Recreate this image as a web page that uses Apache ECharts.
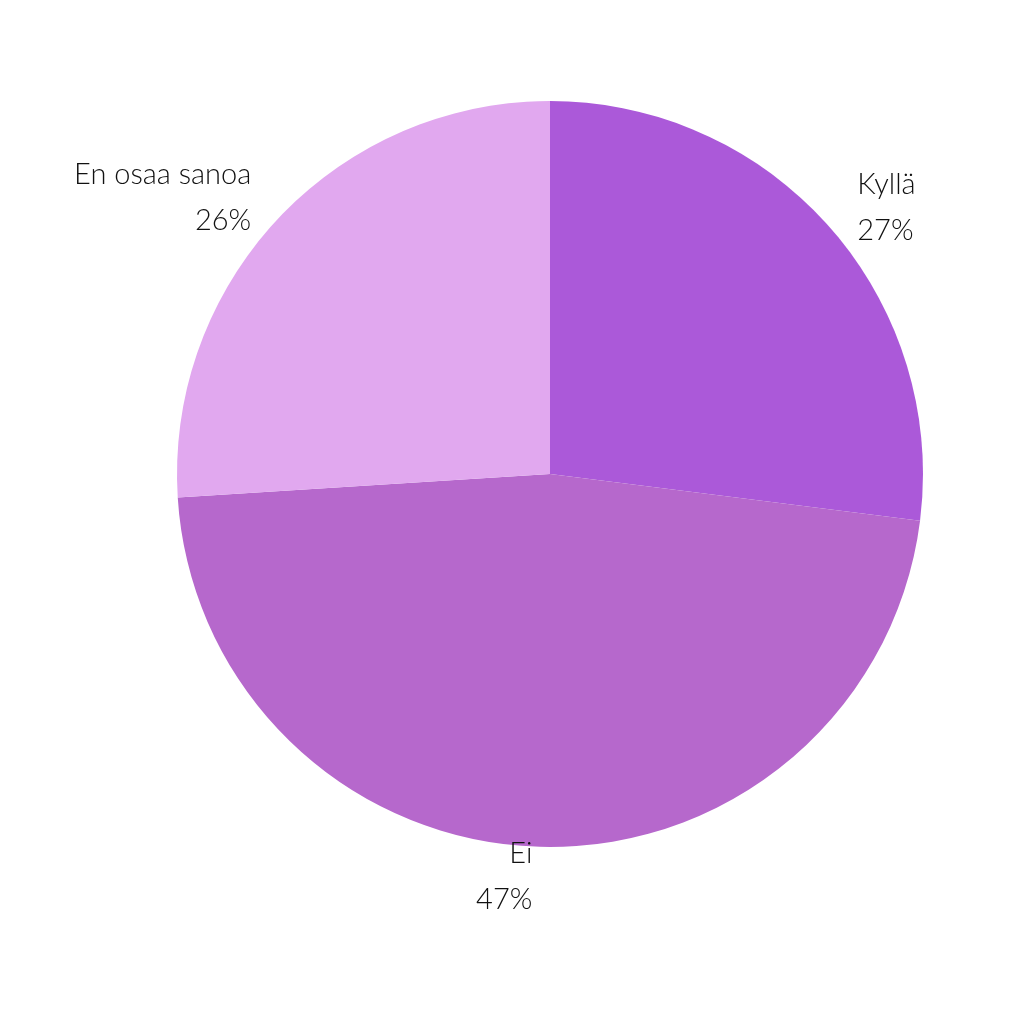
<!DOCTYPE html>
<html><head><meta charset="utf-8">
<script src="https://cdn.jsdelivr.net/npm/echarts@6/dist/echarts.min.js"></script>
<style>html,body{margin:0;background:#fff}#c{width:1024px;height:1024px}</style>
</head><body><div id="c"></div>
<script>
const categories = ["Kyllä", "Ei", "En osaa sanoa"];
const values = [27, 47, 26];
const colors = ["#AB59D9", "#B668CC", "#E1A8EF"];
const chart = echarts.init(document.getElementById('c'));
chart.setOption({
  backgroundColor: '#fff',
  series: [{
    type: 'pie',
    center: [550, 474],
    radius: [0, 373],
    startAngle: 90,
    clockwise: true,
    data: categories.map((n, i) => ({name: n, value: values[i], itemStyle: {color: colors[i]}})),
    label: {
      show: true, position: 'outside',
      formatter: '{b}\n{c}%',
      fontFamily: 'Lato', fontWeight: 300, fontSize: 29, color: '#111',
      lineHeight: 46, align: 'center'
    },
    labelLine: {show: false, length: 30, length2: 0},
    emphasis: {disabled: true}
  }]
});
</script></body></html>
